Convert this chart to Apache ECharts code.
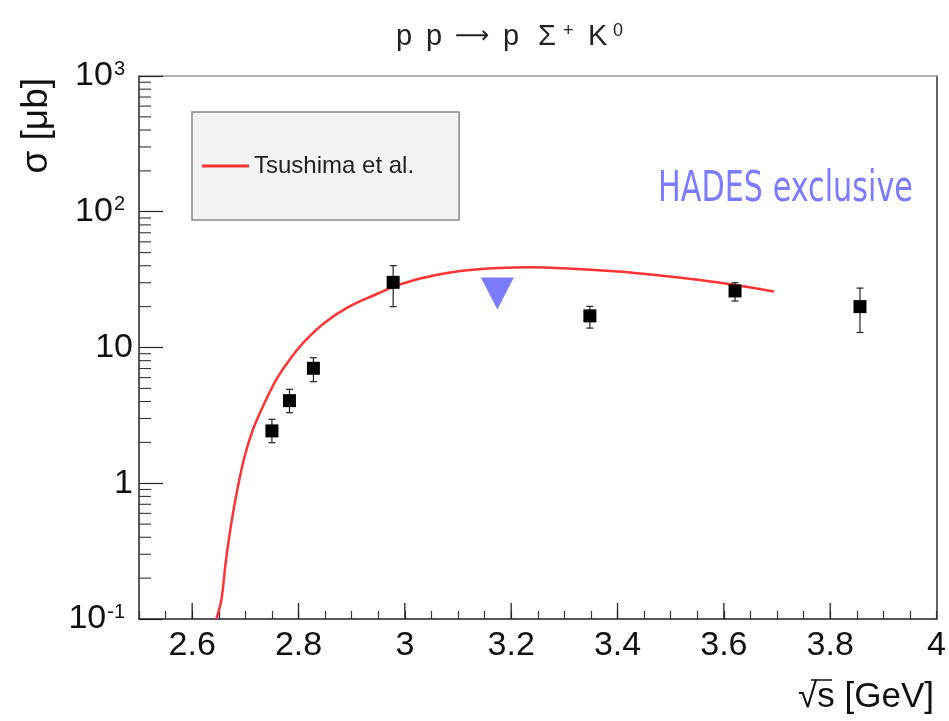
<!DOCTYPE html>
<html>
<head>
<meta charset="utf-8">
<script src="https://cdn.jsdelivr.net/npm/echarts@6/dist/echarts.min.js"></script>
<style>html,body{margin:0;padding:0;background:#fff}#c{width:949px;height:721px}</style>
</head>
<body>
<div id="c"></div>
<script>
// ---- data ----
const curveX = [2.6455, 2.6549, 2.6629, 2.6736, 2.686, 2.6985, 2.714, 2.7328, 2.7579, 2.7828, 2.814, 2.8515, 2.8951, 2.9388, 2.9762, 3.020, 3.0637, 3.1011, 3.1386, 3.176, 3.2322, 3.3071, 3.4007, 3.4757, 3.5506, 3.6124, 3.6942];
const curveY = [0.1, 0.138, 0.257, 0.507, 0.943, 1.569, 2.468, 3.664, 5.763, 8.09, 11.36, 15.49, 19.98, 23.95, 27.76, 31.53, 34.50, 36.48, 37.74, 38.51, 38.97, 38.12, 36.24, 34.02, 31.53, 29.21, 25.85];
const expX = [2.75, 2.783, 2.828, 2.978, 3.348, 3.621, 3.856];
const expY = [2.43, 4.06, 7.03, 30.2, 17.1, 26.1, 20.0];
const expLow = [1.99, 3.31, 5.6, 20.0, 13.9, 22.0, 12.9];
const expHigh = [2.96, 4.92, 8.41, 40.1, 20.1, 30.0, 27.4];
const hadesX = [3.174];
const hadesY = [25];
const xMajorTicks = [2.6, 2.8, 3.0, 3.2, 3.4, 3.6, 3.8];
const yMinorTicks = [0.2,0.3,0.4,0.5,0.6,0.7,0.8,0.9, 2,3,4,5,6,7,8,9, 20,30,40,50,60,70,80,90, 200,300,400,500,600,700,800,900];
const curveName = 'Tsushima et al.';

const FONT = 'Liberation Sans';
const chart = echarts.init(document.getElementById('c'), null, {renderer: 'canvas'});

const option = {
  animation: false,
  backgroundColor: '#fff',
  title: {
    left: 391, top: 17,
    text: '{a|p}{b|p}{c|⟶}{d|p}{e|Σ}{f|+}{g|K}{h|0}',
    textStyle: {
      fontFamily: FONT, fontSize: 29, fontWeight: 'normal', color: '#222',
      rich: {
        a: {fontFamily: FONT, fontSize: 29, width: 30, color: '#222'},
        b: {fontFamily: FONT, fontSize: 29, width: 29, color: '#222'},
        c: {fontFamily: 'DejaVu Sans', fontSize: 24, width: 48, color: '#222'},
        d: {fontFamily: FONT, fontSize: 29, width: 35, color: '#222'},
        e: {fontFamily: FONT, fontSize: 29, width: 25, color: '#222'},
        f: {fontFamily: FONT, fontSize: 18, width: 25, color: '#222', verticalAlign: 'top'},
        g: {fontFamily: FONT, fontSize: 29, width: 25, color: '#222'},
        h: {fontFamily: FONT, fontSize: 18, color: '#222', verticalAlign: 'top'}
      }
    }
  },
  legend: {
    data: [curveName],
    left: 192, top: 112,
    icon: 'rect', itemWidth: 47, itemHeight: 3,
    backgroundColor: '#f3f3f3', borderColor: '#888', borderWidth: 1.5, borderRadius: 0,
    padding: [42, 45, 42, 10],
    textStyle: {fontFamily: FONT, fontSize: 24, color: '#222'}
  },
  grid: {left: 139, right: 9, top: 76, bottom: 102, containLabel: false},
  xAxis: [{
    type: 'value', min: 2.5, max: 4, interval: 0.05,
    axisLine: {lineStyle: {color: '#222', width: 1.5}},
    axisTick: {inside: true, length: 8, lineStyle: {color: '#333', width: 1.2}},
    splitLine: {show: false},
    axisLabel: {
      margin: 10, fontFamily: FONT, fontSize: 34, color: '#111',
      formatter: function (v) {
        const k = v / 0.2;
        if (Math.abs(k - Math.round(k)) < 1e-6 && v > 2.5 + 1e-6) {
          return String(Math.round(v * 10) / 10);
        }
        return '';
      }
    }
  }, {
    type: 'value', position: 'top', min: 2.5, max: 4,
    axisLine: {show: true, lineStyle: {color: '#999', width: 1.5}},
    axisTick: {show: false}, axisLabel: {show: false}, splitLine: {show: false}
  }],
  yAxis: [{
    type: 'log', logBase: 10, min: 0.1, max: 1000, splitNumber: 4,
    axisLine: {show: true, lineStyle: {color: '#222', width: 1.5}},
    axisTick: {show: true, inside: true, length: 24, lineStyle: {color: '#222', width: 1.2}},
    splitLine: {show: false},
    minorTick: {show: false},
    axisLabel: {
      margin: 6, fontFamily: FONT, fontSize: 34, color: '#111',
      formatter: function (v) {
        const e = Math.round(Math.log10(v));
        if (e === 0) return '1';
        if (e === 1) return '10';
        return '10{sup|' + e + '}';
      },
      rich: {
        sup: {fontFamily: FONT, fontSize: 20, color: '#111', verticalAlign: 'top', padding: [0, 8, 0, 1]}
      }
    }
  }, {
    type: 'value', position: 'right', min: 0, max: 1,
    axisLine: {show: true, lineStyle: {color: '#333', width: 1.5}},
    axisTick: {show: false}, axisLabel: {show: false}, splitLine: {show: false}
  }],
  graphic: [
    {type: 'text', x: 37, y: 78, rotation: Math.PI / 2,
      style: {text: 'σ [μb]', fontFamily: FONT, fontSize: 37, fill: '#111', align: 'right', verticalAlign: 'middle'}},
    {type: 'text', x: 934, y: 697,
      style: {text: '√s [GeV]', fontFamily: FONT, fontSize: 35, fill: '#111', align: 'right', verticalAlign: 'middle'}},
    {type: 'line', shape: {x1: 811, y1: 680, x2: 832, y2: 680}, style: {stroke: '#111', lineWidth: 1.5}},
    {type: 'text', x: 658, y: 190, scaleX: 0.72,
      style: {text: 'HADES exclusive', fontFamily: 'DejaVu Sans', fontSize: 42, fill: '#7b7bff', align: 'left', verticalAlign: 'middle'}}
  ],
  series: [
    {
      name: curveName, type: 'line', xAxisIndex: 0, yAxisIndex: 0,
      data: curveX.map((x, i) => [x, curveY[i]]),
      symbol: 'none', smooth: 0.3,
      lineStyle: {color: '#ff3333', width: 2.5},
      itemStyle: {color: '#ff3333'}, z: 3
    },
    {
      name: 'xMajor', type: 'custom', silent: true, clip: false, z: 2,
      data: xMajorTicks.map(v => [v, 0.1]),
      renderItem: function (params, api) {
        const p = api.coord([api.value(0), api.value(1)]);
        return {type: 'line', shape: {x1: p[0], y1: p[1], x2: p[0], y2: p[1] - 16},
          style: {stroke: '#222', lineWidth: 1.3}};
      }
    },
    {
      name: 'yMinor', type: 'custom', silent: true, clip: false, z: 2,
      data: yMinorTicks.map(v => [2.5, v]),
      renderItem: function (params, api) {
        const p = api.coord([api.value(0), api.value(1)]);
        return {type: 'line', shape: {x1: p[0], y1: p[1], x2: p[0] + 12, y2: p[1]},
          style: {stroke: '#333', lineWidth: 1.1}};
      }
    },
    {
      name: 'errors', type: 'custom', silent: true, z: 4,
      data: expX.map((x, i) => [x, expLow[i], expHigh[i]]),
      renderItem: function (params, api) {
        const x = api.value(0);
        const lo = api.coord([x, api.value(1)]);
        const hi = api.coord([x, api.value(2)]);
        const st = {stroke: '#222', lineWidth: 1.2};
        return {type: 'group', children: [
          {type: 'line', shape: {x1: lo[0], y1: lo[1], x2: hi[0], y2: hi[1]}, style: st},
          {type: 'line', shape: {x1: lo[0] - 3.5, y1: lo[1], x2: lo[0] + 3.5, y2: lo[1]}, style: st},
          {type: 'line', shape: {x1: hi[0] - 3.5, y1: hi[1], x2: hi[0] + 3.5, y2: hi[1]}, style: st}
        ]};
      }
    },
    {
      name: 'data', type: 'scatter', z: 5,
      data: expX.map((x, i) => [x, expY[i]]),
      symbol: 'rect', symbolSize: 13,
      itemStyle: {color: '#000', opacity: 1}
    },
    {
      name: 'HADES', type: 'scatter', z: 5,
      data: hadesX.map((x, i) => [x, hadesY[i]]),
      symbol: 'triangle', symbolRotate: 180, symbolSize: [33, 32],
      itemStyle: {color: '#7b7bff', opacity: 1}
    }
  ]
};
chart.setOption(option);
</script>
</body>
</html>
